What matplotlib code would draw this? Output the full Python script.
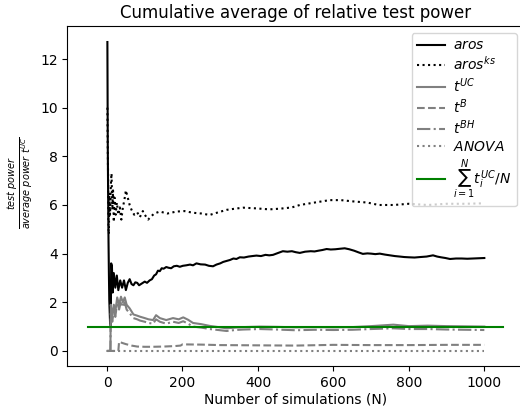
import numpy as np
import matplotlib.pyplot as plt

# values (N, cumulative average)
aros_n = [1, 2, 3, 4, 5, 6, 8, 10, 11, 13, 15, 18, 22, 26, 30, 35, 40, 45, 50, 55, 60,
          65, 70, 75, 80, 85, 90, 95, 100, 106, 113, 119, 125, 130, 135, 140, 145, 150,
          157, 163, 170, 177, 185, 193, 201, 210, 220, 228, 237, 248, 260, 270, 281,
          290, 300, 308, 317, 326, 335, 343, 352, 363, 375, 385, 396, 408, 420, 430,
          440, 452, 466, 478, 490, 500, 511, 525, 540, 550, 560, 571, 582, 593, 605,
          617, 630, 642, 655, 667, 678, 690, 700, 711, 723, 737, 750, 763, 776, 788,
          800, 815, 830, 847, 864, 875, 885, 897, 909, 925, 940, 955, 970, 985, 1000]
aros = [12.7, 8.5, 6.3, 4.5, 3.2, 2.1, 1.2, 1.0, 3.6, 3.5, 2.4, 3.2, 2.6, 3.1, 2.5, 2.9,
        2.6, 2.9, 2.5, 2.8, 2.95, 2.75, 2.7, 2.82, 2.8, 2.7, 2.75, 2.8, 2.85, 2.8, 2.9,
        2.95, 3.1, 3.15, 3.3, 3.28, 3.4, 3.38, 3.45, 3.42, 3.4, 3.48, 3.5, 3.46, 3.5,
        3.52, 3.55, 3.52, 3.6, 3.56, 3.55, 3.5, 3.48, 3.55, 3.6, 3.66, 3.7, 3.74, 3.8,
        3.78, 3.85, 3.84, 3.88, 3.9, 3.92, 3.9, 3.95, 3.93, 3.95, 4.02, 4.1, 4.08,
        4.1, 4.06, 4.03, 4.08, 4.1, 4.09, 4.12, 4.15, 4.19, 4.17, 4.18, 4.2, 4.22,
        4.18, 4.12, 4.05, 3.99, 4.01, 4.0, 3.98, 4.0, 3.96, 3.93, 3.9, 3.88, 3.86,
        3.85, 3.84, 3.86, 3.88, 3.93, 3.88, 3.85, 3.82, 3.78, 3.8, 3.8, 3.79, 3.8,
        3.81, 3.82]

aros_ks_n = [1, 2, 3, 4, 5, 6, 8, 10, 12, 14, 16, 18, 20, 23, 26, 30, 34, 38, 42, 46, 50,
             55, 60, 65, 72, 80, 87, 95, 100, 109, 115, 125, 140, 160, 184, 205, 228, 250,
             272, 295, 317, 340, 361, 396, 430, 460, 490, 511, 550, 590, 620, 650, 690,
             720, 760, 800, 850, 900, 950, 1000]
aros_ks = [10.0, 8.4, 7.0, 5.0, 4.8, 6.5, 5.6, 6.8, 7.3, 5.8, 6.6, 5.3, 6.3, 5.6, 6.1, 5.6,
           5.9, 5.4, 5.9, 6.2, 6.6, 6.3, 6.0, 5.8, 5.6, 5.7, 5.5, 5.75, 5.6, 5.4, 5.5,
           5.65, 5.73, 5.65, 5.73, 5.75, 5.68, 5.65, 5.59, 5.7, 5.8, 5.85, 5.89, 5.86,
           5.82, 5.85, 5.9, 6.0, 6.1, 6.2, 6.2, 6.15, 6.1, 6.0, 6.0, 6.05, 6.0, 6.05,
           6.05, 6.07]

t_uc_n = [1, 9, 10, 14, 18, 22, 27, 32, 37, 42, 47, 52, 60, 70, 80, 87, 100, 110, 122,
          130, 140, 157, 175, 190, 202, 215, 228, 250, 272, 295, 317, 340, 361, 405,
          450, 500, 550, 600, 650, 700, 759, 800, 850, 900, 950, 1000]
t_uc = [0, 0, 1.9, 1.4, 1.9, 1.6, 2.2, 1.9, 2.23, 2.0, 2.2, 1.9, 1.75, 1.5, 1.45, 1.41,
        1.35, 1.3, 1.27, 1.47, 1.35, 1.27, 1.35, 1.3, 1.38, 1.28, 1.15, 1.1, 1.03, 0.98,
        0.93, 0.96, 0.98, 1.0, 0.99, 0.97, 0.98, 0.97, 0.98, 1.02, 1.08, 1.02, 1.04,
        1.02, 1.01, 1.0]

t_bh_n = [1, 9, 10, 14, 18, 22, 27, 32, 37, 42, 47, 52, 60, 70, 80, 87, 100, 110, 122,
          130, 140, 157, 175, 190, 202, 215, 228, 250, 272, 295, 317, 340, 361, 405,
          450, 500, 550, 600, 650, 700, 759, 800, 850, 900, 950, 1000]
t_bh = [0, 0, 1.6, 1.2, 1.7, 1.4, 2.0, 1.7, 2.05, 1.8, 2.0, 1.7, 1.55, 1.35, 1.3, 1.25,
        1.2, 1.15, 1.12, 1.3, 1.2, 1.12, 1.2, 1.15, 1.22, 1.12, 1.0, 0.96, 0.9, 0.86,
        0.82, 0.86, 0.88, 0.9, 0.88, 0.85, 0.87, 0.86, 0.87, 0.9, 0.93, 0.9, 0.9,
        0.88, 0.87, 0.86]

t_b_n = [1, 30, 32, 40, 50, 65, 80, 100, 120, 150, 180, 195, 200, 250, 300, 400, 500,
         600, 700, 800, 900, 1000]
t_b = [0, 0, 0.38, 0.33, 0.28, 0.22, 0.18, 0.17, 0.17, 0.18, 0.2, 0.22, 0.27, 0.26,
       0.24, 0.23, 0.22, 0.25, 0.24, 0.24, 0.25, 0.25]

anova_n = [1, 1000]
anova = [0, 0]

ref_n = [-50, 1050]
ref_level = [1, 1]

fig = plt.figure(figsize=(5.2, 4.07), dpi=100)
# axes run a little past the right edge, as in the reference
ax = fig.add_axes([0.1296, 0.1007, 0.878, 0.8355])

ax.plot(aros_n, aros, color='k', linestyle='-', label=r'$aros$')
ax.plot(aros_ks_n, aros_ks, color='k', linestyle=':', label=r'$aros^{ks}$')
ax.plot(t_uc_n, t_uc, color='grey', linestyle='-', label=r'$t^{UC}$')
ax.plot(t_b_n, t_b, color='grey', linestyle='--', label=r'$t^{B}$')
ax.plot(t_bh_n, t_bh, color='grey', linestyle='-.', label=r'$t^{BH}$')
ax.plot(anova_n, anova, color='grey', linestyle=':', label=r'$ANOVA$')
ax.plot(ref_n, ref_level, color='green', linestyle='-',
        label=r'$\sum_{i=1}^{N} t_i^{UC}/N$')

ax.set_xlim(-105, 1105)
ax.set_ylim(-0.62, 13.36)
ax.set_xticks([0, 200, 400, 600, 800, 1000])
ax.set_yticks([0, 2, 4, 6, 8, 10, 12])
ax.set_title('Cumulative average of relative test power')
ax.set_xlabel('Number of simulations (N)', labelpad=2)
ax.set_ylabel(r'$\frac{test\ power}{average\ power\ t^{UC}}$')
ax.yaxis.set_label_coords(-0.068, 0.54)
ax.legend(loc='upper right', labelspacing=0.2, handletextpad=0.6)

fig.savefig('out.png', dpi=100)
